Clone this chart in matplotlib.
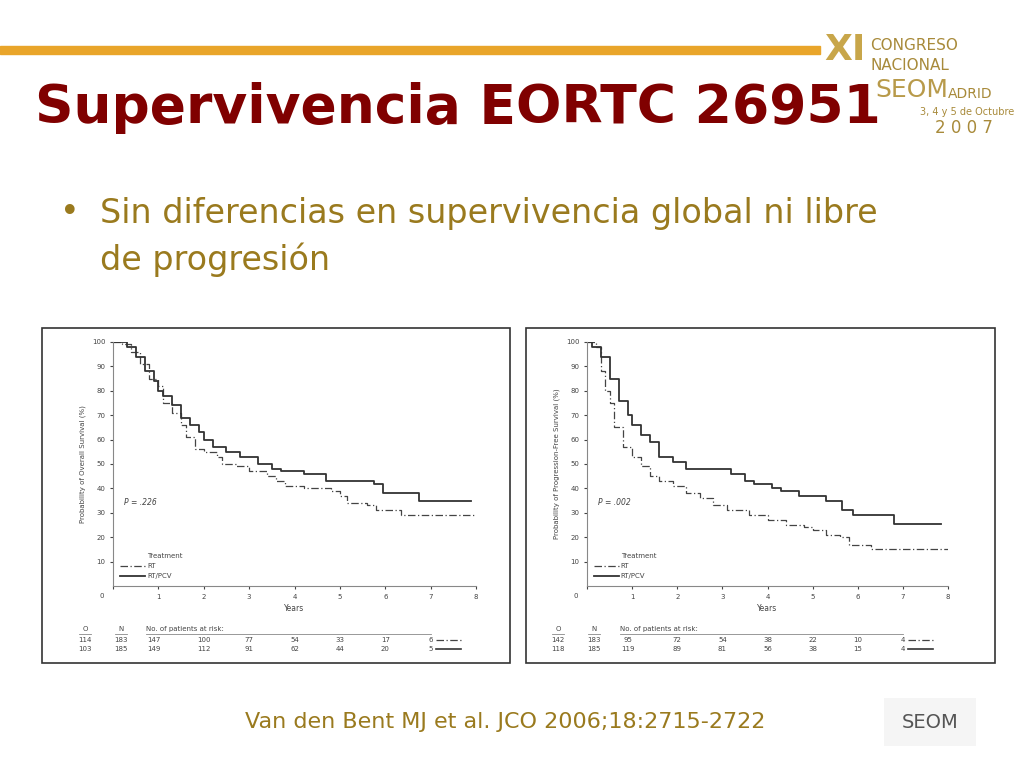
import matplotlib
matplotlib.use("Agg")
import matplotlib.pyplot as plt
from matplotlib.patches import Rectangle

W, H = 1024, 768

# Overall survival (left)
os_rt_t = [0, 0.2, 0.4, 0.6, 0.8, 1.0, 1.1, 1.3, 1.5, 1.6, 1.8, 2.0, 2.3, 2.4, 2.7, 3.0, 3.4, 3.6, 3.8, 4.2, 4.8, 5.0, 5.15, 5.6, 5.8, 6.35, 8.0]
os_rt_v = [100, 99, 96, 91, 85, 82, 75, 71, 66, 61, 56, 55, 53, 50, 49, 47, 45, 43, 41, 40, 39, 37, 34, 33, 31, 29, 29]
os_pcv_t = [0, 0.3, 0.5, 0.7, 0.9, 1.0, 1.1, 1.3, 1.5, 1.7, 1.9, 2.0, 2.2, 2.5, 2.8, 3.2, 3.5, 3.7, 4.2, 4.7, 5.75, 5.95, 6.75, 7.9]
os_pcv_v = [100, 98, 94, 88, 84, 80, 78, 74, 69, 66, 63, 60, 57, 55, 53, 50, 48, 47, 46, 43, 42, 38, 35, 35]

# Progression-free survival (right)
pfs_rt_t = [0, 0.2, 0.3, 0.4, 0.5, 0.6, 0.8, 1.0, 1.2, 1.4, 1.6, 1.9, 2.2, 2.5, 2.8, 3.1, 3.6, 4.0, 4.4, 4.8, 5.0, 5.3, 5.6, 5.8, 6.3, 8.0]
pfs_rt_v = [100, 98, 88, 80, 75, 65, 57, 53, 49, 45, 43, 41, 38, 36, 33, 31, 29, 27, 25, 24, 23, 21, 20, 17, 15, 15]
pfs_pcv_t = [0, 0.1, 0.3, 0.5, 0.7, 0.9, 1.0, 1.2, 1.4, 1.6, 1.9, 2.2, 3.0, 3.2, 3.5, 3.7, 4.1, 4.3, 4.7, 5.3, 5.65, 5.9, 6.8, 7.85]
pfs_pcv_v = [100, 98, 94, 85, 76, 70, 66, 62, 59, 53, 51, 48, 48, 46, 43, 42, 40, 39, 37, 35, 31, 29, 25.5, 25.5]

os_risk_rt = ["114", "183", "147", "100", "77", "54", "33", "17", "6"]
os_risk_pcv = ["103", "185", "149", "112", "91", "62", "44", "20", "5"]
pfs_risk_rt = ["142", "183", "95", "72", "54", "38", "22", "10", "4"]
pfs_risk_pcv = ["118", "185", "119", "89", "81", "56", "38", "15", "4"]

fig = plt.figure(figsize=(W / 100, H / 100), dpi=100)
fig.patch.set_facecolor("white")

def px(x0, y0, x1, y1):
    return [x0 / W, 1 - y1 / H, (x1 - x0) / W, (y1 - y0) / H]

bg = fig.add_axes([0, 0, 1, 1])
bg.set_xlim(0, W)
bg.set_ylim(H, 0)
bg.axis("off")
bg.add_patch(Rectangle((0, 46), 820, 8, color="#E9A52A"))
bg.text(35, 108, "Supervivencia EORTC 26951", fontsize=38.5, fontweight="bold",
        color="#800000", va="center", ha="left")
bg.text(60, 213, "\u2022", fontsize=24, color="#9A7A1E", va="center")
bg.text(100, 213, "Sin diferencias en supervivencia global ni libre", fontsize=24,
        color="#9A7A1E", va="center")
bg.text(100, 260, "de progresión", fontsize=24, color="#9A7A1E", va="center")
bg.text(505, 722, "Van den Bent MJ et al. JCO 2006;18:2715-2722", fontsize=16,
        color="#9A7A1E", va="center", ha="center")
bg.text(824, 50, "XI", fontsize=26, color="#C8A64A", va="center", fontweight="bold")
bg.text(870, 45, "CONGRESO", fontsize=11, color="#A88A3A", va="center")
bg.text(870, 65, "NACIONAL", fontsize=11, color="#A88A3A", va="center")
bg.text(875, 90, "SEOM", fontsize=18, color="#B89A4A", va="center")
bg.text(948, 94, "ADRID", fontsize=10, color="#A88A3A", va="center")
bg.text(920, 112, "3, 4 y 5 de Octubre", fontsize=7, color="#A88A3A", va="center")
bg.text(935, 128, "2 0 0 7", fontsize=12, color="#A88A3A", va="center")
bg.add_patch(Rectangle((884, 698), 92, 48, facecolor="#F5F5F5", edgecolor="none"))
bg.text(930, 722, "SEOM", fontsize=14, color="#555555", va="center", ha="center")

panels = [
    (42, 510, 113, 476, 85, 121, "Probability of Overall Survival (%)", ".226",
     os_rt_t, os_rt_v, os_pcv_t, os_pcv_v, os_risk_rt, os_risk_pcv),
    (526, 995, 587, 948, 558, 594, "Probability of Progression-Free Survival (%)", ".002",
     pfs_rt_t, pfs_rt_v, pfs_pcv_t, pfs_pcv_v, pfs_risk_rt, pfs_risk_pcv),
]

for (bx0, bx1, ax0, ax1, ox, nx, ylab, p, rt_t, rt_v, pc_t, pc_v, r_rt, r_pc) in panels:
    bg.add_patch(Rectangle((bx0, 328), bx1 - bx0, 335, fill=False,
                           edgecolor="#333333", lw=1.2))
    ax = fig.add_axes(px(ax0, 342, ax1, 586))
    ax.step(rt_t, rt_v, where="post", color="#444444", lw=0.9, ls=(0, (6, 2, 1, 2)))
    ax.step(pc_t, pc_v, where="post", color="#333333", lw=1.3)
    ax.set_xlim(0, 8)
    ax.set_ylim(0, 100)
    ax.set_xticks(range(9))
    ax.set_xticklabels([""] + [str(i) for i in range(1, 9)])
    ax.set_yticks(range(10, 101, 10))
    ax.tick_params(labelsize=5, length=2, colors="#444444")
    for s in ["top", "right"]:
        ax.spines[s].set_visible(False)
    for s in ["left", "bottom"]:
        ax.spines[s].set_color("#888888")
    ax.set_xlabel("Years", fontsize=5.5, color="#444444", labelpad=3)
    ax.set_ylabel(ylab, fontsize=5, color="#444444")
    ax.text(-0.2, -3, "0", fontsize=5, color="#444444", ha="right", va="top")
    ax.text(0.25, 33, "P = " + p, fontsize=5.5, color="#444444", style="italic")
    ax.text(0.75, 11.5, "Treatment", fontsize=5, color="#444444")
    ax.plot([0.15, 0.7], [8, 8], color="#444444", lw=0.9, ls=(0, (6, 2, 1, 2)))
    ax.text(0.75, 8, "RT", fontsize=5, color="#444444", va="center")
    ax.plot([0.15, 0.7], [4, 4], color="#333333", lw=1.3)
    ax.text(0.75, 4, "RT/PCV", fontsize=5, color="#444444", va="center")

    # risk table
    sc = (ax1 - ax0) / 8
    xs = [ox, nx] + [ax0 + sc * k for k in range(1, 8)]
    xs[2] -= 4
    bg.text(ox, 631, "O", fontsize=5, color="#444444", ha="center")
    bg.text(nx, 631, "N", fontsize=5, color="#444444", ha="center")
    bg.plot([ox - 6, ox + 6], [634, 634], color="#888888", lw=0.6)
    bg.plot([nx - 6, nx + 6], [634, 634], color="#888888", lw=0.6)
    bg.text(xs[2] - 8, 631, "No. of patients at risk:", fontsize=5, color="#444444")
    bg.plot([xs[2] - 8, ax0 + sc * 7], [634, 634], color="#888888", lw=0.6)
    for x, a, b in zip(xs, r_rt, r_pc):
        bg.text(x, 642, a, fontsize=5, color="#444444", ha="center")
        bg.text(x, 651, b, fontsize=5, color="#444444", ha="center")
    bg.plot([ax0 + sc * 7 + 5, ax0 + sc * 7 + 30], [640, 640], color="#444444",
            lw=0.9, ls=(0, (6, 2, 1, 2)))
    bg.plot([ax0 + sc * 7 + 5, ax0 + sc * 7 + 30], [649, 649], color="#333333", lw=1.2)

fig.savefig("out.png", dpi=100)
